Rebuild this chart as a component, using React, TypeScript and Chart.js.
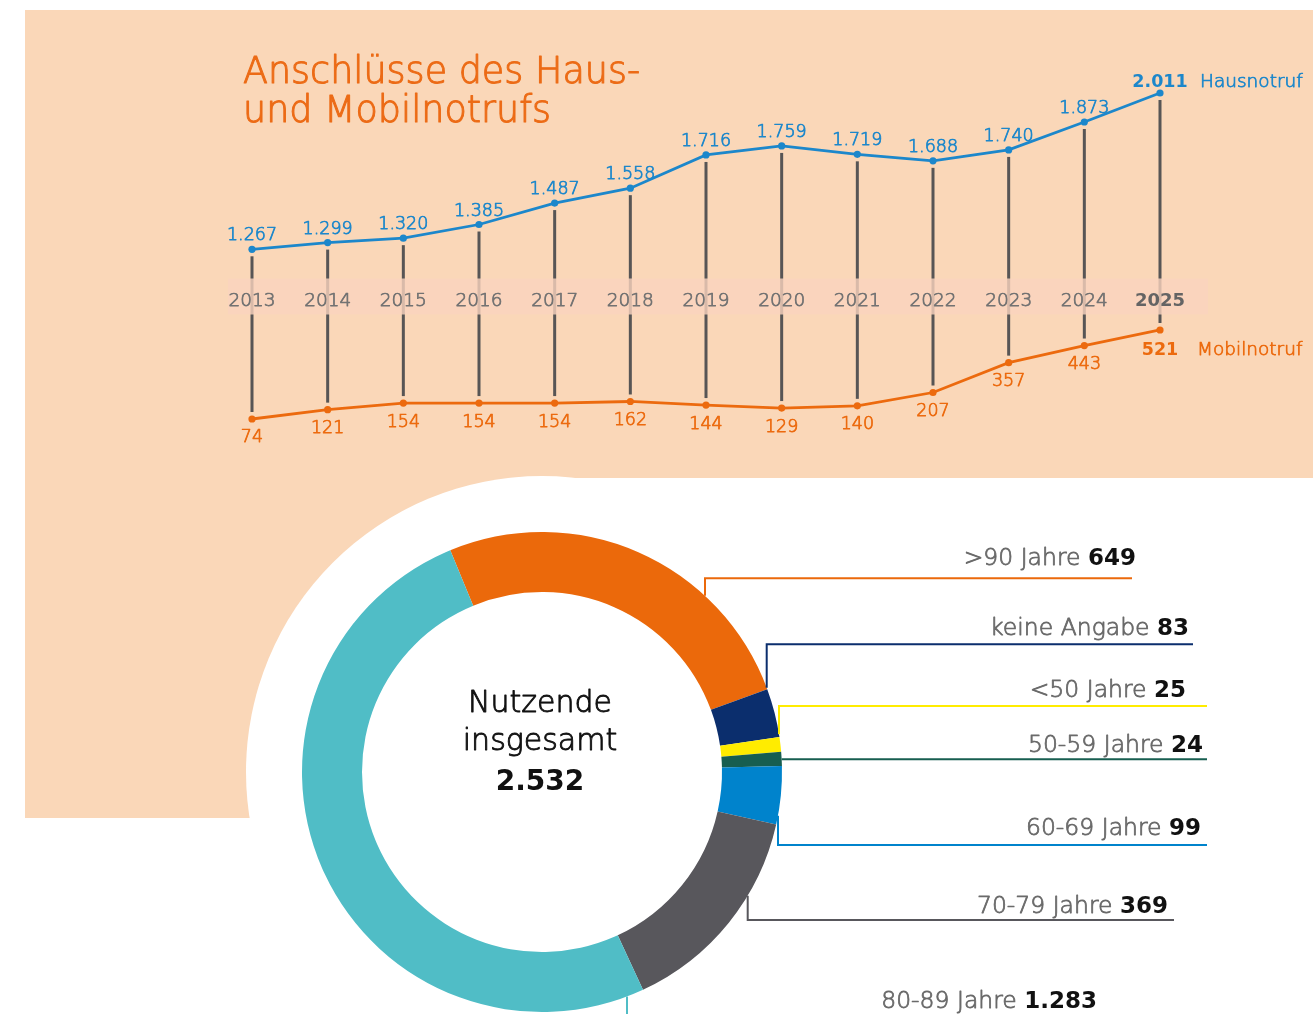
import React, { useEffect, useRef } from 'react';
import { Chart, registerables } from 'chart.js';

Chart.register(...registerables);

// ---------- data ----------
const titleLines = ['Anschlüsse des Haus-', 'und Mobilnotrufs'];
const years = ['2013', '2014', '2015', '2016', '2017', '2018', '2019', '2020', '2021', '2022', '2023', '2024', '2025'];
const seriesNames = ['Hausnotruf', 'Mobilnotruf'];
const hausnotruf = [1267, 1299, 1320, 1385, 1487, 1558, 1716, 1759, 1719, 1688, 1740, 1873, 2011];
const mobilnotruf = [74, 121, 154, 154, 154, 162, 144, 129, 140, 207, 357, 443, 521];

const centerLabel = ['Nutzende', 'insgesamt'];
const ageGroups = ['>90 Jahre', 'keine Angabe', '<50 Jahre', '50-59 Jahre', '60-69 Jahre', '70-79 Jahre', '80-89 Jahre'];
const ageCounts = [649, 83, 25, 24, 99, 369, 1283];

// ---------- styles ----------
const FONT = '"DejaVu Sans", sans-serif';
const PEACH = '#FAD7B8';
const BLUE = '#1C87CB';
const ORANGE = '#EC6A0E';
const TITLE_ORANGE = '#EC6B16';
const ageColors = ['#EB690B', '#0B2E6D', '#FFEC00', '#175E50', '#0083CC', '#58575C', '#50BDC6'];

// leader-line layout for the doughnut labels (page pixels)
const leaderLayout = [
  { textRight: 1136, textBase: 565, lineY: 578.3, lineRight: 1132, anchorX: 705 },
  { textRight: 1189, textBase: 635, lineY: 644.3, lineRight: 1193, anchorX: 766.7 },
  { textRight: 1186, textBase: 696.7, lineY: 706, lineRight: 1207, anchorX: 779 },
  { textRight: 1203, textBase: 751.7, lineY: 759.3, lineRight: 1207, anchorX: null as number | null },
  { textRight: 1201, textBase: 835, lineY: 845, lineRight: 1207, anchorX: 778 },
  { textRight: 1168, textBase: 913.3, lineY: 920, lineRight: 1174, anchorX: 747.7 },
  { textRight: 1097, textBase: 1008.3, lineY: 1040, lineRight: 1100, anchorX: 627 },
];

const fmt = (n: number) => String(n).replace(/\B(?=(\d{3})+(?!\d))/g, '.');

// light text, thickened slightly by a stroke of the same colour
function lightText(ctx: CanvasRenderingContext2D, txt: string, x: number, y: number, size: number, color: string, sw: number) {
  ctx.font = `200 ${size}px ${FONT}`;
  ctx.fillStyle = color;
  ctx.strokeStyle = color;
  ctx.lineWidth = sw;
  ctx.lineJoin = 'round';
  ctx.fillText(txt, x, y);
  ctx.strokeText(txt, x, y);
}

const lineDecor = {
  id: 'lineDecor',
  beforeDatasetsDraw(chart: any) {
    const { ctx, chartArea } = chart;
    const mh = chart.getDatasetMeta(0).data;
    const mm = chart.getDatasetMeta(1).data;
    ctx.save();
    ctx.strokeStyle = '#575555';
    ctx.lineWidth = 3;
    for (let i = 0; i < mh.length; i++) {
      ctx.beginPath();
      ctx.moveTo(mh[i].x, mh[i].y + 7);
      ctx.lineTo(mm[i].x, mm[i].y - 7);
      ctx.stroke();
    }
    // year band
    ctx.fillStyle = 'rgba(250,211,190,0.8)';
    ctx.fillRect(chartArea.left - 24, 278.5, chartArea.right - chartArea.left + 72, 36);
    ctx.textAlign = 'center';
    ctx.textBaseline = 'alphabetic';
    years.forEach((yr, i) => {
      const last = i === years.length - 1;
      if (last) {
        ctx.font = `bold 18px ${FONT}`;
        ctx.fillStyle = '#646464';
        ctx.fillText(yr, mh[i].x, 305.5);
      } else {
        lightText(ctx, yr, mh[i].x, 305.5, 18.5, '#727272', 0.75);
      }
    });
    ctx.restore();
  },
  afterDatasetsDraw(chart: any) {
    const { ctx } = chart;
    const mh = chart.getDatasetMeta(0).data;
    const mm = chart.getDatasetMeta(1).data;
    const n = mh.length;
    ctx.save();
    ctx.textAlign = 'center';
    ctx.textBaseline = 'alphabetic';
    hausnotruf.forEach((v, i) => {
      if (i === n - 1) {
        ctx.font = `bold 17.5px ${FONT}`;
        ctx.fillStyle = BLUE;
        ctx.fillText(fmt(v), mh[i].x, mh[i].y - 6);
      } else {
        lightText(ctx, fmt(v), mh[i].x, mh[i].y - 9, 17.5, BLUE, 0.75);
      }
    });
    ctx.textAlign = 'left';
    lightText(ctx, seriesNames[0], mh[n - 1].x + 40, mh[n - 1].y - 6, 18.5, BLUE, 0.75);

    ctx.textAlign = 'center';
    mobilnotruf.forEach((v, i) => {
      if (i === n - 1) {
        ctx.font = `bold 17.5px ${FONT}`;
        ctx.fillStyle = ORANGE;
        ctx.fillText(fmt(v), mm[i].x, mm[i].y + 25);
      } else {
        lightText(ctx, fmt(v), mm[i].x, mm[i].y + 23.5, 17.5, ORANGE, 0.75);
      }
    });
    ctx.textAlign = 'left';
    lightText(ctx, seriesNames[1], mm[n - 1].x + 37, mm[n - 1].y + 25, 18.5, ORANGE, 0.75);
    ctx.restore();
  },
  afterDraw(chart: any) {
    const { ctx } = chart;
    ctx.save();
    ctx.textAlign = 'left';
    ctx.textBaseline = 'alphabetic';
    lightText(ctx, titleLines[0], 243, 83.3, 36.5, TITLE_ORANGE, 1.0);
    lightText(ctx, titleLines[1], 243, 121.7, 36.5, TITLE_ORANGE, 1.0);
    ctx.restore();
  },
};

const donutDecor = {
  id: 'donutDecor',
  afterDraw(chart: any) {
    const { ctx } = chart;
    const arc = chart.getDatasetMeta(0).data[0];
    const cx = arc.x;
    const cy = arc.y;
    const r = arc.outerRadius;
    ctx.save();
    ctx.textAlign = 'center';
    ctx.textBaseline = 'alphabetic';
    lightText(ctx, centerLabel[0], cx - 2, 712.3, 30, '#111111', 0.9);
    lightText(ctx, centerLabel[1], cx - 2, 750, 30, '#111111', 0.9);
    ctx.font = `bold 28px ${FONT}`;
    ctx.fillStyle = '#111111';
    const total = ageCounts.reduce((a, b) => a + b, 0);
    ctx.fillText(fmt(total), cx - 2, 790);

    ageGroups.forEach((g, i) => {
      const L = leaderLayout[i];
      ctx.strokeStyle = ageColors[i];
      ctx.lineWidth = 2;
      ctx.lineJoin = 'miter';
      ctx.beginPath();
      if (L.anchorX === null) {
        const ex = cx + Math.sqrt(Math.max(r * r - (L.lineY - cy) ** 2, 0));
        ctx.moveTo(ex, L.lineY);
        ctx.lineTo(L.lineRight, L.lineY);
      } else {
        const dy = Math.sqrt(Math.max(r * r - (L.anchorX - cx) ** 2, 0));
        const ey = L.lineY < cy ? cy - dy : cy + dy;
        ctx.moveTo(L.lineRight, L.lineY);
        ctx.lineTo(L.anchorX, L.lineY);
        ctx.lineTo(L.anchorX, ey);
      }
      ctx.stroke();

      const valTxt = fmt(ageCounts[i]);
      ctx.textAlign = 'right';
      ctx.font = `bold 23px ${FONT}`;
      const vw = ctx.measureText(valTxt).width;
      ctx.fillStyle = '#111111';
      ctx.fillText(valTxt, L.textRight, L.textBase);
      lightText(ctx, g + ' ', L.textRight - vw, L.textBase, 23.5, '#6a6a6a', 0.8);
    });
    ctx.restore();
  },
};

export default function App() {
  const lineRef = useRef<HTMLCanvasElement>(null);
  const donutRef = useRef<HTMLCanvasElement>(null);

  useEffect(() => {
    const lineChart = new Chart(lineRef.current as HTMLCanvasElement, {
      type: 'line',
      data: {
        labels: years,
        datasets: [
          {
            label: seriesNames[0],
            data: hausnotruf,
            yAxisID: 'y',
            borderColor: BLUE,
            backgroundColor: BLUE,
            borderWidth: 2.8,
            pointRadius: 3.6,
            pointBorderWidth: 0,
            tension: 0,
            clip: false as any,
          },
          {
            label: seriesNames[1],
            data: mobilnotruf,
            yAxisID: 'y2',
            borderColor: ORANGE,
            backgroundColor: ORANGE,
            borderWidth: 2.8,
            pointRadius: 3.6,
            pointBorderWidth: 0,
            tension: 0,
            clip: false as any,
          },
        ],
      },
      options: {
        responsive: false,
        animation: false,
        devicePixelRatio: 1,
        events: [],
        layout: { padding: { left: 252, right: 153, top: 60, bottom: 30 } },
        scales: {
          x: { type: 'category', display: false, offset: false },
          y: { display: false, min: 311.7, max: 2168 },
          y2: { display: false, min: -81.7, max: 1877 },
        },
        plugins: { legend: { display: false }, tooltip: { enabled: false }, title: { display: false } },
      },
      plugins: [lineDecor],
    });

    const donutChart = new Chart(donutRef.current as HTMLCanvasElement, {
      type: 'doughnut',
      data: {
        labels: ageGroups,
        datasets: [
          {
            data: ageCounts,
            backgroundColor: ageColors,
            borderWidth: 0,
            hoverOffset: 0,
            offset: 0,
          },
        ],
      },
      options: {
        responsive: false,
        animation: false,
        devicePixelRatio: 1,
        events: [],
        rotation: -22.47,
        cutout: '75%',
        layout: { padding: { left: 302, right: 531, top: 532, bottom: 2 } },
        plugins: { legend: { display: false }, tooltip: { enabled: false } },
      },
      plugins: [donutDecor],
    });

    return () => {
      lineChart.destroy();
      donutChart.destroy();
    };
  }, []);

  return (
    <div style={{ position: 'absolute', left: 0, top: 0, width: 1313, height: 1014, overflow: 'hidden', background: '#ffffff' }}>
      <div style={{ position: 'absolute', left: 24.5, top: 10, width: 1288.5, height: 468, background: PEACH }} />
      <div style={{ position: 'absolute', left: 24.5, top: 10, width: 520, height: 808, background: PEACH }} />
      <div style={{ position: 'absolute', left: 541.7 - 296, top: 771.7 - 296, width: 592, height: 592, borderRadius: '50%', background: '#ffffff' }} />
      <canvas ref={lineRef} width={1313} height={480} style={{ position: 'absolute', left: 0, top: 0, width: 1313, height: 480 }} />
      <canvas ref={donutRef} width={1313} height={1014} style={{ position: 'absolute', left: 0, top: 0, width: 1313, height: 1014 }} />
    </div>
  );
}
